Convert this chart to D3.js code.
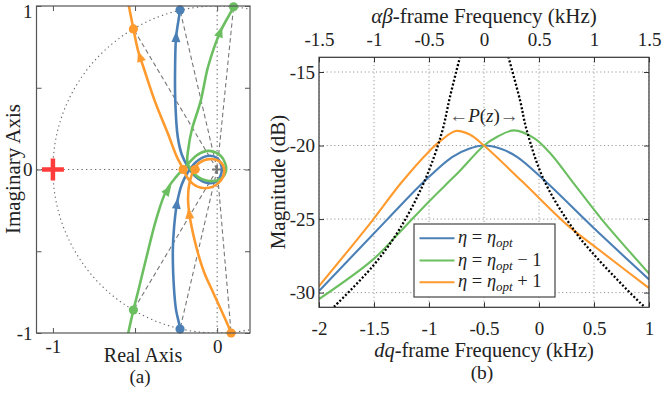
<!DOCTYPE html>
<html><head><meta charset="utf-8">
<script src="https://cdn.jsdelivr.net/npm/d3@7"></script>
<style>
body{margin:0;background:#fff}
text{font-family:"Liberation Serif","Times New Roman",serif;fill:#222}
</style>
</head><body>
<svg id="c" width="665" height="395"></svg>
<script>
// ---------- data: (a) root locus ----------
const blueLocus = [[-0.229,-1.03],[-0.226,-0.976],[-0.25,-0.86],[-0.262,-0.74],[-0.27,-0.5],[-0.262,-0.35],[-0.245,-0.21],[-0.215,-0.09],[-0.18,-0.02],[-0.13,0.045],[-0.06,0.083],[0.0,0.07],[0.029,0.0],[0.0,-0.07],[-0.06,-0.083],[-0.13,-0.045],[-0.18,0.02],[-0.215,0.09],[-0.24,0.2],[-0.255,0.42],[-0.256,0.63],[-0.25,0.81],[-0.226,0.976],[-0.222,1.03]];
const greenLocus = [[-0.55,-1.04],[-0.51,-0.86],[-0.48,-0.74],[-0.43,-0.535],[-0.37,-0.3],[-0.31,-0.13],[-0.25,-0.045],[-0.19,0.02],[-0.12,0.09],[-0.05,0.114],[0.025,0.08],[0.055,0.0],[0.025,-0.055],[-0.05,-0.07],[-0.13,-0.035],[-0.18,0.04],[-0.175,0.13],[-0.155,0.24],[-0.10,0.42],[-0.055,0.63],[0.018,0.84],[0.1,0.995],[0.115,1.04]];
const orangeLocus = [[0.095,-1.04],[0.085,-1.0],[-0.03,-0.74],[-0.079,-0.63],[-0.12,-0.5],[-0.165,-0.3],[-0.177,-0.19],[-0.17,-0.09],[-0.13,0.02],[-0.06,0.062],[0.015,0.05],[0.043,0.0],[0.02,-0.07],[-0.05,-0.112],[-0.12,-0.105],[-0.175,-0.06],[-0.205,0.0],[-0.245,0.076],[-0.30,0.22],[-0.38,0.42],[-0.45,0.63],[-0.48,0.72],[-0.51,0.86],[-0.545,1.04]];
const blueDots = [[-0.226,0.976],[-0.226,-0.976]];
const greenDots = [[0.1,0.995],[-0.51,-0.86]];
const orangeDots = [[-0.51,0.86],[0.085,-1.0],[-0.207,0],[-0.134,0]];
const blueArrows = [[-0.245,-0.21],[-0.25,0.81]];
const greenArrows = [[-0.3,-0.127],[0.018,0.84]];
const orangeArrows = [[-0.17,-0.27],[-0.47,0.69]];
const crossings = [[-0.226,0.976],[-0.226,-0.976],[0.1,0.995],[-0.51,-0.86],[-0.51,0.86],[0.085,-1.0]];
const openLoopPole = [-1,0];
const originPole = [0,0];
const reTicks = [-1,-0.5,0];
const imTicks = [-1,-0.5,0,0.5,1];

// ---------- data: (b) magnitude ----------
const dqTicks = [-2,-1.5,-1,-0.5,0,0.5,1];
const abTicks = [-1.5,-1,-0.5,0,0.5,1,1.5];
const magTicks = [-30,-25,-20,-15];
const dqBlue = [-2,-1.379,-1.045,-0.79,-0.636,-0.5,-0.348,-0.197,0.061,0.5,1.0];
const magBlue = [-29.9,-25.02,-22.45,-20.78,-20.22,-20.0,-20.22,-20.78,-22.45,-25.63,-29.1];
const dqGreen = [-2,-1.515,-1.273,-1.0,-0.818,-0.727,-0.5,-0.379,-0.227,-0.045,0.106,0.303,0.576,1.0];
const magGreen = [-30.44,-27.79,-25.95,-23.8,-22.45,-21.78,-20.0,-19.4,-18.97,-19.5,-20.56,-22.45,-25.07,-28.7];
const dqOrange = [-2,-1.515,-1.26,-1.0,-0.89,-0.757,-0.63,-0.5,-0.152,0.258,0.53,1.0];
const magOrange = [-29.56,-25.1,-22.6,-20.4,-19.65,-19.01,-19.25,-20.0,-22.45,-25.41,-27.0,-29.7];
const dqPleft = [-1.864,-1.515,-1.273,-1.045,-0.885,-0.809,-0.718];
const magPleft = [-30.97,-28.24,-25.75,-22.5,-19.17,-16.68,-13.96];
const dqPright = [-0.279,-0.173,-0.112,0.045,0.318,0.53,0.924,0.965];
const magPright = [-13.96,-16.9,-18.95,-22.35,-25.75,-27.67,-30.73,-31.0];
const legendLabels = [["η"," = ","η","opt",""],["η"," = ","η","opt"," − 1"],["η"," = ","η","opt"," + 1"]];

const C = {blue:"#4b80b6", green:"#6cbf60", orange:"#ff9a2e", red:"#ff3b3b"};

const svg = d3.select("#c");
const defs = svg.append("defs");

// ================= (a) =================
const L = {x0:36.5, x1:250, y0:6, y1:333};
const xL = d3.scaleLinear().domain([-1.1,0.2]).range([L.x0,L.x1]);
const yL = d3.scaleLinear().domain([-1,1]).range([L.y1,L.y0]);
defs.append("clipPath").attr("id","clipL").append("rect")
  .attr("x",L.x0).attr("y",L.y0).attr("width",L.x1-L.x0).attr("height",L.y1-L.y0);
const gL = svg.append("g").attr("clip-path","url(#clipL)");

gL.append("ellipse").attr("cx",xL(0)).attr("cy",yL(0))
  .attr("rx",xL(1)-xL(0)).attr("ry",yL(0)-yL(1))
  .attr("fill","none").attr("stroke","#666").attr("stroke-width",1.1).attr("stroke-dasharray","1.3,3.2");
gL.append("line").attr("x1",L.x0).attr("x2",L.x1).attr("y1",yL(0)).attr("y2",yL(0))
  .attr("stroke","#666").attr("stroke-width",1.1).attr("stroke-dasharray","1.3,3.2");
gL.append("line").attr("x1",xL(0)).attr("x2",xL(0)).attr("y1",L.y0).attr("y2",L.y1)
  .attr("stroke","#666").attr("stroke-width",1.1).attr("stroke-dasharray","1.3,3.2");
gL.selectAll(".rad").data(crossings).join("line")
  .attr("x1",xL(originPole[0])).attr("y1",yL(originPole[1]))
  .attr("x2",d=>xL(d[0])).attr("y2",d=>yL(d[1]))
  .attr("stroke","#777").attr("stroke-width",1.1).attr("stroke-dasharray","4.5,3");
gL.append("path").attr("d",`M${xL(originPole[0])-5},${yL(originPole[1])}h9M${xL(originPole[0])-0.5},${yL(originPole[1])-4}v8`)
  .attr("stroke","#777").attr("stroke-width",2).attr("fill","none");
gL.append("path").attr("d",`M${xL(openLoopPole[0])-11},${yL(openLoopPole[1])}h22M${xL(openLoopPole[0])},${yL(openLoopPole[1])-11}v22`)
  .attr("stroke",C.red).attr("stroke-width",4.5).attr("fill","none");

const lineL = d3.line().x(d=>xL(d[0])).y(d=>yL(d[1])).curve(d3.curveCatmullRom.alpha(0.5));
const loci = [[blueLocus,blueDots,blueArrows,C.blue],[greenLocus,greenDots,greenArrows,C.green],[orangeLocus,orangeDots,orangeArrows,C.orange]];
loci.forEach(([pts,dots,arrs,col])=>{
  gL.append("path").attr("d",lineL(pts)).attr("fill","none").attr("stroke",col).attr("stroke-width",2.6);
});
const gLm = svg.append("g");
loci.forEach(([pts,dots,arrs,col])=>{
  arrs.forEach(a=>{
    let best=1e9, ang=0;
    for(let i=0;i<pts.length-1;i++){
      const ax=xL(pts[i][0]), ay=yL(pts[i][1]), bx=xL(pts[i+1][0]), by=yL(pts[i+1][1]);
      const px=xL(a[0]), py=yL(a[1]);
      const dx=bx-ax, dy=by-ay, t=Math.max(0,Math.min(1,((px-ax)*dx+(py-ay)*dy)/(dx*dx+dy*dy)));
      const dd=Math.hypot(ax+t*dx-px, ay+t*dy-py);
      if(dd<best){best=dd; ang=Math.atan2(dy,dx)*180/Math.PI;}
    }
    gLm.append("path").attr("d","M6,0L-5,-4.5L-5,4.5Z")
      .attr("transform",`translate(${xL(a[0])},${yL(a[1])}) rotate(${ang})`).attr("fill",col);
  });
  gLm.selectAll(null).data(dots).join("circle")
    .attr("cx",d=>xL(d[0])).attr("cy",d=>yL(d[1])).attr("r",4.6).attr("fill",col);
});

svg.append("rect").attr("x",L.x0).attr("y",L.y0).attr("width",L.x1-L.x0).attr("height",L.y1-L.y0)
  .attr("fill","none").attr("stroke","#555").attr("stroke-width",1.2);
const fmtInt = d=> Number.isInteger(d) ? String(d) : "";
const axL = svg.append("g").attr("transform",`translate(${L.x0},0)`)
  .call(d3.axisLeft(yL).tickValues(imTicks).tickSizeInner(-5).tickSizeOuter(0).tickPadding(4).tickFormat(fmtInt));
const axR = svg.append("g").attr("transform",`translate(${L.x1},0)`)
  .call(d3.axisRight(yL).tickValues(imTicks).tickSizeInner(-5).tickSizeOuter(0).tickFormat(""));
const axB = svg.append("g").attr("transform",`translate(0,${L.y1})`)
  .call(d3.axisBottom(xL).tickValues(reTicks).tickSizeInner(-5).tickSizeOuter(0).tickPadding(7).tickFormat(fmtInt));
const axT = svg.append("g").attr("transform",`translate(0,${L.y0})`)
  .call(d3.axisTop(xL).tickValues(reTicks).tickSizeInner(-5).tickSizeOuter(0).tickFormat(""));
[axL,axR,axB,axT].forEach(g=>{
  g.select(".domain").remove();
  g.selectAll("line").attr("stroke","#555");
  g.selectAll("text").attr("font-size",19).attr("fill","#333").style("font-family","Liberation Serif");
});
axL.selectAll(".tick").filter(d=>d===1).select("text").attr("dy","0.62em");
svg.append("text").attr("transform","translate(20,169) rotate(-90)").attr("text-anchor","middle")
  .attr("font-size",21).text("Imaginary Axis");
svg.append("text").attr("x",143).attr("y",361.5).attr("text-anchor","middle").attr("font-size",20).text("Real Axis");
svg.append("text").attr("x",140).attr("y",383).attr("text-anchor","middle").attr("font-size",19).text("(a)");

// ================= (b) =================
const R = {x0:319, x1:649, y0:57.3, y1:307.3};
const xR = d3.scaleLinear().domain([-2,1]).range([R.x0,R.x1]);
const xTop = d3.scaleLinear().domain([-1.5,1.5]).range([R.x0,R.x1]);
const yR = d3.scaleLinear().domain([-31,-14]).range([R.y1,R.y0]);
defs.append("clipPath").attr("id","clipR").append("rect")
  .attr("x",R.x0).attr("y",R.y0).attr("width",R.x1-R.x0).attr("height",R.y1-R.y0);
const gR = svg.append("g").attr("clip-path","url(#clipR)");
gR.selectAll(".gx").data(dqTicks).join("line")
  .attr("x1",d=>xR(d)).attr("x2",d=>xR(d)).attr("y1",R.y0).attr("y2",R.y1)
  .attr("stroke","#999").attr("stroke-width",1).attr("stroke-dasharray","1.2,2.6");
gR.selectAll(".gy").data(magTicks).join("line")
  .attr("y1",d=>yR(d)).attr("y2",d=>yR(d)).attr("x1",R.x0).attr("x2",R.x1)
  .attr("stroke","#999").attr("stroke-width",1).attr("stroke-dasharray","1.2,2.6");
const lineR = d3.line().x(d=>xR(d[0])).y(d=>yR(d[1])).curve(d3.curveCatmullRom.alpha(0.5));
const zip = (a,b)=>a.map((v,i)=>[v,b[i]]);
[[dqBlue,magBlue,C.blue],[dqGreen,magGreen,C.green],[dqOrange,magOrange,C.orange]].forEach(([x,y,col])=>{
  gR.append("path").attr("d",lineR(zip(x,y))).attr("fill","none").attr("stroke",col).attr("stroke-width",2.1);
});
[[dqPleft,magPleft],[dqPright,magPright]].forEach(([x,y])=>{
  gR.append("path").attr("d",lineR(zip(x,y))).attr("fill","none").attr("stroke","#000")
    .attr("stroke-width",2.3).attr("stroke-dasharray","2,2");
});
const pz = svg.append("text").attr("x",xR(-0.5)).attr("y",122).attr("text-anchor","middle").attr("font-size",19);
pz.append("tspan").attr("fill","#555").text("←");
pz.append("tspan").attr("font-style","italic").text("P");
pz.append("tspan").text("(");
pz.append("tspan").attr("font-style","italic").text("z");
pz.append("tspan").text(")");
pz.append("tspan").attr("fill","#555").text("→");

svg.append("rect").attr("x",R.x0).attr("y",R.y0).attr("width",R.x1-R.x0).attr("height",R.y1-R.y0)
  .attr("fill","none").attr("stroke","#333").attr("stroke-width",1.2);
const fmt = d=>String(d);
const bL = svg.append("g").attr("transform",`translate(${R.x0},0)`)
  .call(d3.axisLeft(yR).tickValues(magTicks).tickSizeInner(-5).tickSizeOuter(0).tickPadding(4).tickFormat(fmt));
const bR = svg.append("g").attr("transform",`translate(${R.x1},0)`)
  .call(d3.axisRight(yR).tickValues(magTicks).tickSizeInner(-5).tickSizeOuter(0).tickFormat(""));
const bB = svg.append("g").attr("transform",`translate(0,${R.y1})`)
  .call(d3.axisBottom(xR).tickValues(dqTicks).tickSizeInner(-5).tickSizeOuter(0).tickPadding(14).tickFormat(fmt));
const bT = svg.append("g").attr("transform",`translate(0,${R.y0})`)
  .call(d3.axisTop(xTop).tickValues(abTicks).tickSizeInner(-5).tickSizeOuter(0).tickPadding(11).tickFormat(fmt));
[bL,bR,bB,bT].forEach(g=>{
  g.select(".domain").remove();
  g.selectAll("line").attr("stroke","#333");
  g.selectAll("text").attr("font-size",19).attr("fill","#333").style("font-family","Liberation Serif");
});
svg.append("text").attr("transform","translate(285,182) rotate(-90)").attr("text-anchor","middle")
  .attr("font-size",21).text("Magnitude (dB)");
const tb = svg.append("text").attr("x",484).attr("y",357).attr("text-anchor","middle").attr("font-size",20.5);
tb.append("tspan").attr("font-style","italic").text("dq");
tb.append("tspan").text("-frame Frequency (kHz)");
const tt = svg.append("text").attr("x",484).attr("y",23).attr("text-anchor","middle").attr("font-size",21);
tt.append("tspan").attr("font-style","italic").text("αβ");
tt.append("tspan").text("-frame Frequency (kHz)");
svg.append("text").attr("x",482).attr("y",379).attr("text-anchor","middle").attr("font-size",19.5).text("(b)");

const lg = svg.append("g");
lg.append("rect").attr("x",414).attr("y",224).attr("width",141).attr("height",73)
  .attr("fill","#fff").attr("stroke","#444").attr("stroke-width",1.2);
const legCols = [C.blue,C.green,C.orange];
const rowY = [238.3,260.5,282.3];
legendLabels.forEach((lab,i)=>{
  lg.append("line").attr("x1",419.5).attr("x2",454.5).attr("y1",rowY[i]).attr("y2",rowY[i])
    .attr("stroke",legCols[i]).attr("stroke-width",2.1);
  const t = lg.append("text").attr("x",458).attr("y",rowY[i]+5).attr("font-size",18.5);
  t.append("tspan").attr("font-style","italic").text(lab[0]);
  t.append("tspan").text(lab[1]);
  t.append("tspan").attr("font-style","italic").text(lab[2]);
  t.append("tspan").attr("font-style","italic").attr("font-size",13).attr("dy",4).text(lab[3]);
  t.append("tspan").attr("dy",-4).text(lab[4]);
});
</script>
</body></html>
